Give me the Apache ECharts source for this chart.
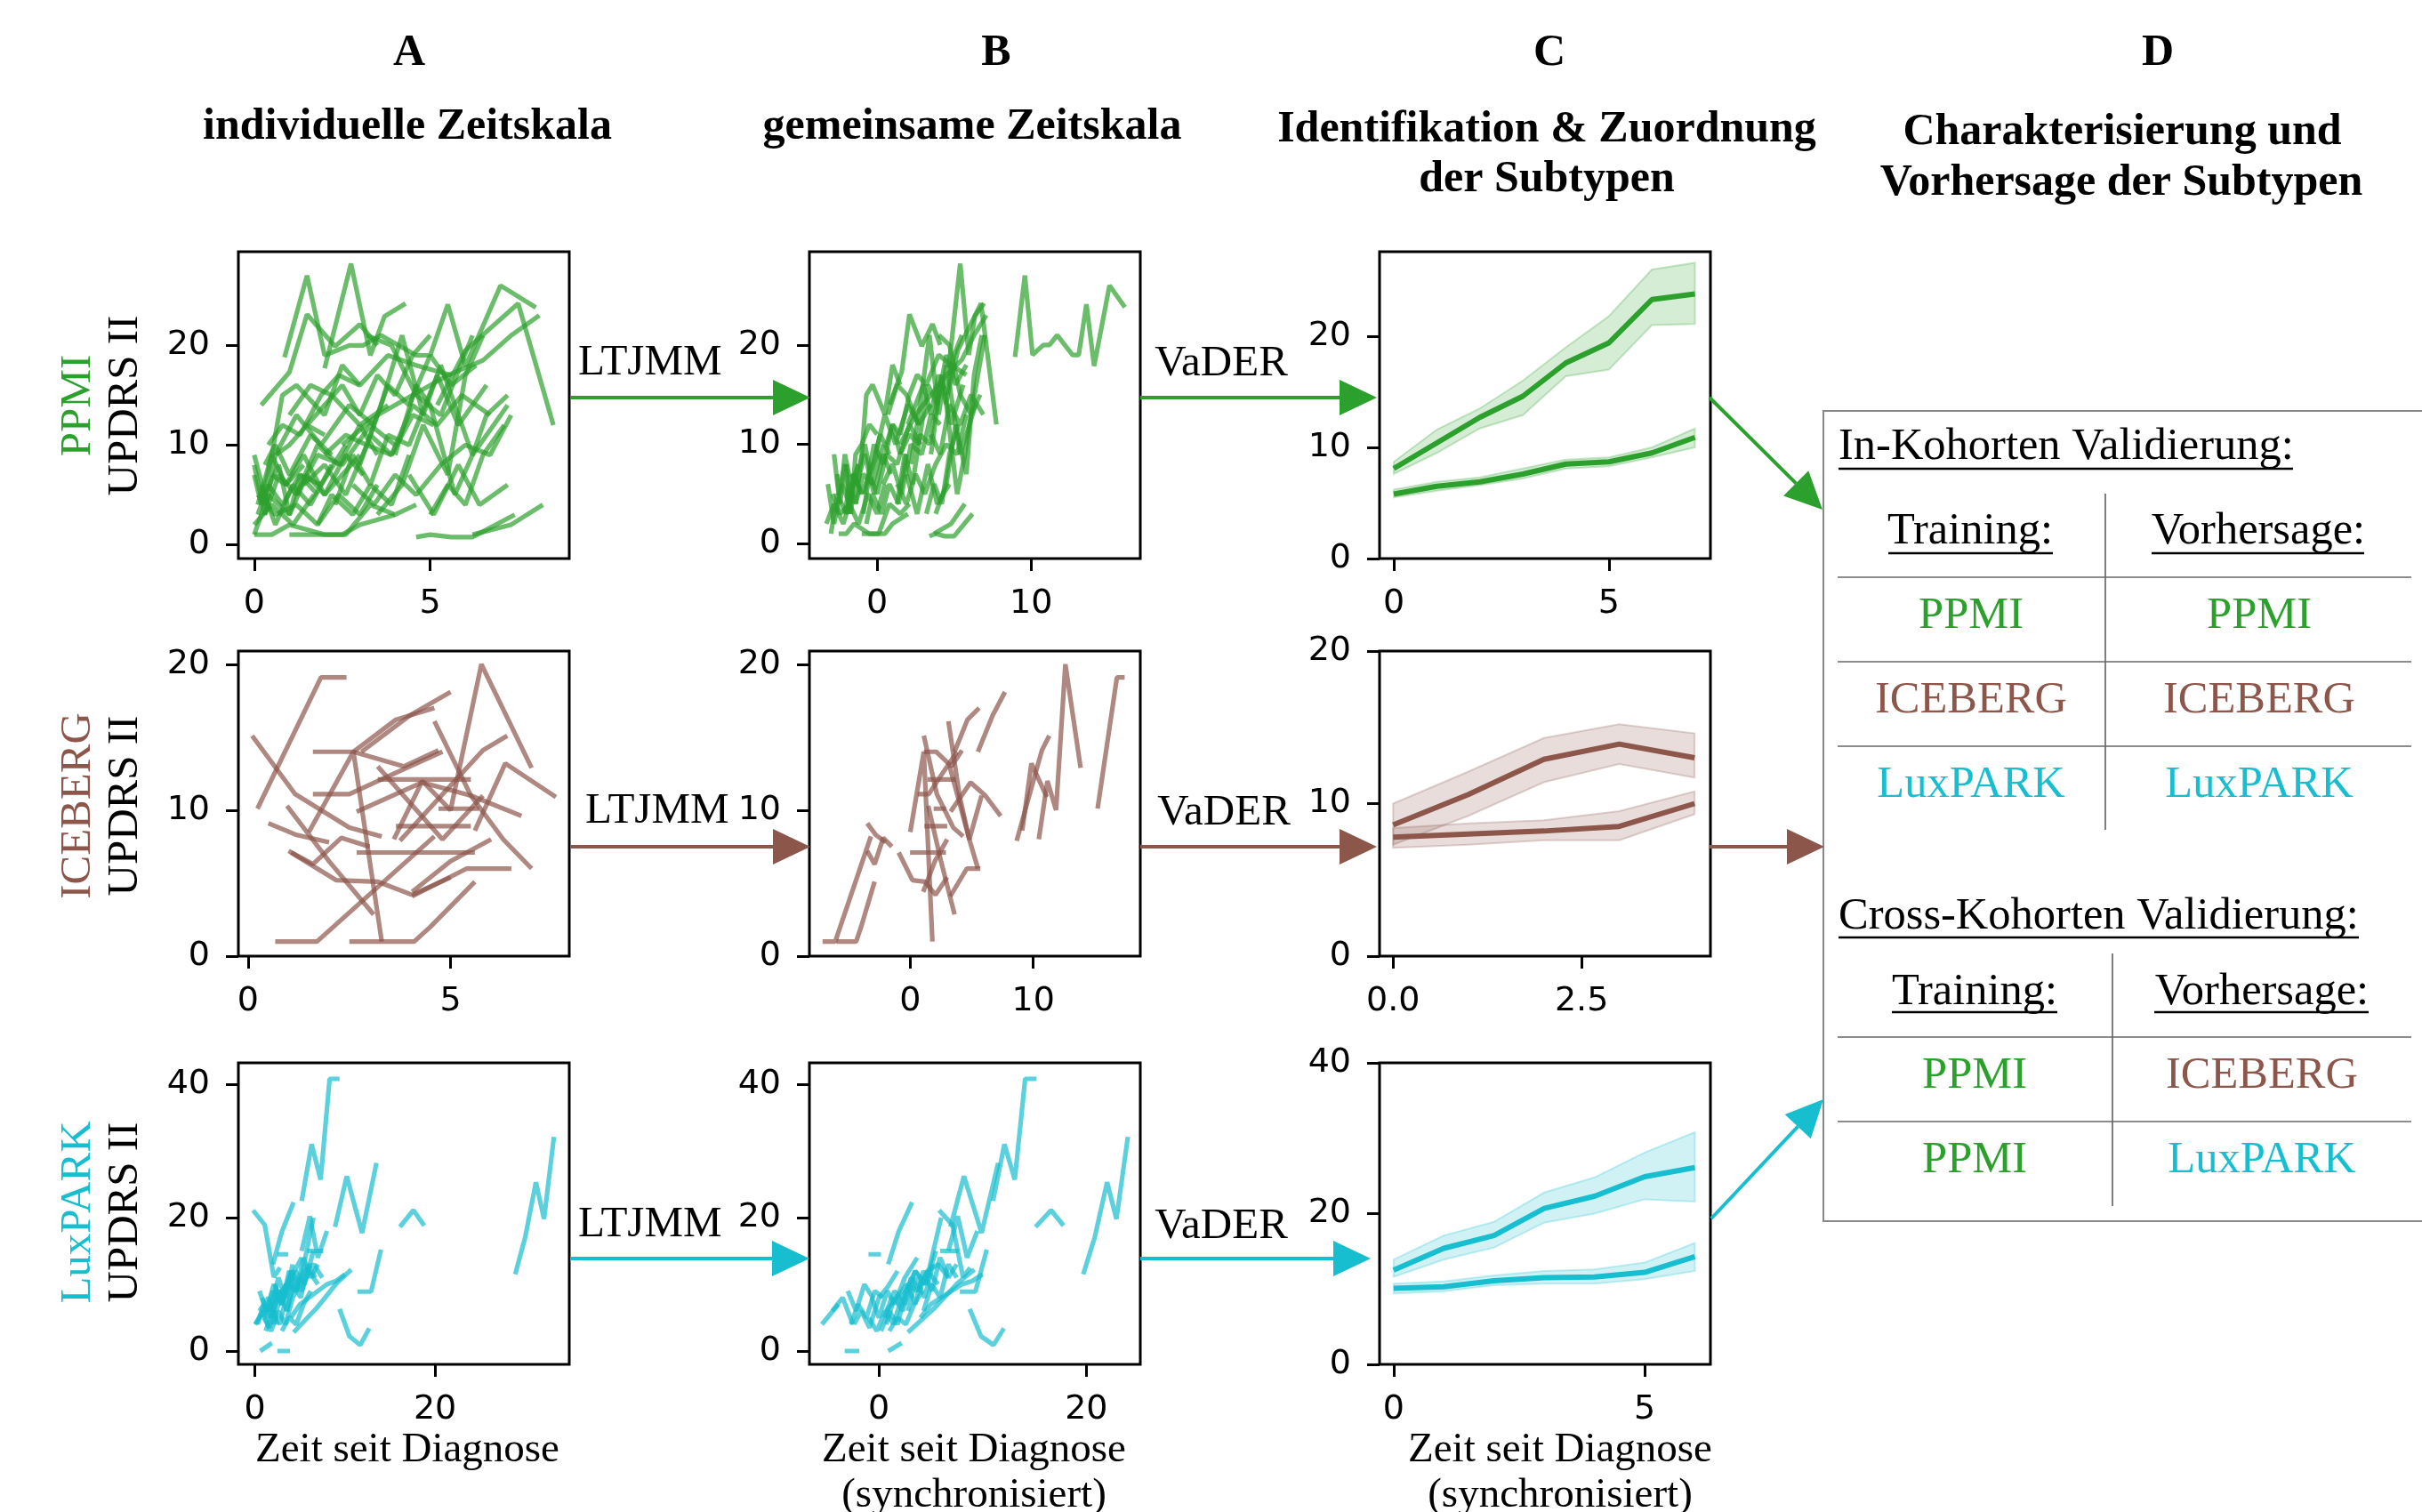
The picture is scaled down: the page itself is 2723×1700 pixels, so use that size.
<!DOCTYPE html>
<html><head><meta charset="utf-8">
<script src="https://cdn.jsdelivr.net/npm/echarts@6/dist/echarts.min.js"></script>
<style>html,body{margin:0;padding:0;background:#fff}#c{width:2723px;height:1700px}</style>
</head><body><div id="c"></div>
<script>
// ---------------- DATA ----------------
// PPMI individual trajectories: time since diagnosis, UPDRS II, and LTJMM time shift
const ppmiTimes = [
 [0.86,1.5,2.0,2.7,3.1,3.6,4.6,5.0,5.5,6.0,7.0,8.0],
 [2.0,2.75,3.3,3.7,4.3],
 [0.2,1.0,1.5,2.3,3.0,3.5],
 [5.2,6.0,7.5,8.5],
 [2.5,3.5,4.5,5.5,6.5,7.3,8.1],
 [0.0,0.3,0.6,1.0,1.5,2.0],
 [0.1,0.5,0.8,1.2,2.0,2.5,3.0],
 [0.0,0.4,1.0,1.5,2.0,3.0],
 [0.2,0.6,1.1,1.6,2.2],
 [0.3,0.7,1.2,1.8,2.5,3.3,4.0],
 [0.0,0.5,1.0,2.0,2.6,3.3,4.0,4.6],
 [1.0,1.5,2.0,2.5,3.0,4.0],
 [4.6,5.0,5.6,6.2,7.4],
 [6.2,7.3,8.2],
 [1.5,2.0,2.5,3.0,3.5,4.0,4.5,5.0],
 [3.0,3.6,4.2,4.8,5.3,6.2,6.8,7.2],
 [1.2,1.8,2.4,3.0,3.5],
 [2.3,2.8,3.3,3.8,4.4,5.2,5.8,6.6],
 [3.5,4.2,4.8,5.5,6.0,6.5],
 [4.0,4.6,5.0,5.7,6.2,6.6,7.2],
 [0.5,0.9,1.4,2.0,2.6,3.1],
 [0.0,0.3,0.7,1.0,1.3,1.8],
 [1.8,2.2,2.8,3.3,3.9,4.4],
 [4.4,5.1,5.8,6.4,7.2],
 [2.0,2.6,3.2,3.8,4.4,5.0,5.6,6.3],
 [0.4,0.8,1.3,1.9,2.4,3.0,3.8,4.6,5.6],
 [5.0,5.5,6.0,6.5,7.1],
 [0.1,0.6,1.2,1.8,2.4,3.0,3.5],
 [2.8,3.4,4.0,4.6,5.3,6.0,6.7,7.3],
 [3.2,3.9,4.6,5.3,6.2],
 [1.0,1.6,2.2,3.0,3.8],
 [0.0,0.2,0.5,0.9,1.4],
 [0.1,0.4,0.8,1.3,1.9,2.6],
 [0.3,0.6,1.0,1.6,2.2],
 [0.0,0.5,1.1,1.7],
 [1.4,2.0,2.6,3.2,3.9,4.5,5.1],
 [0.6,1.2,1.9,2.7,3.4],
 [3.3,3.9,4.5,5.2,5.9,6.7]
];
const ppmiValues = [
 [18.8,27.0,19.0,20.0,20.0,21.0,19.0,19.0,24.1,17.9,26.0,23.8],
 [17.7,28.2,19.0,22.9,24.2],
 [14.0,17.3,23.1,19.9,22.1,20.0],
 [14.0,19.5,24.2,12.0],
 [10,13,15,17,18.5,21,23],
 [8,3,9,10,12,11],
 [4,9,15,16,13,18,16],
 [1,5,3,7,5,9],
 [6,2,6,4,8],
 [3,7,5,9,8,12,10],
 [1,1,2,1,1,4,3,4],
 [1,1,1,1,2,3],
 [0.75,1,0.75,0.75,3.0],
 [1,2,4],
 [12,14,16,13,17,15,19,21],
 [8,14,21,13,18,9,12,14],
 [5,10,8,12,9],
 [4,9,6,11,10,17,12,16],
 [3,6,12,7,17,21],
 [9,16,14,5,9,13,15],
 [7,6,9,5,9,7],
 [9,5,8,3,7,5],
 [2,5,3,6,4,9],
 [7,3,8,4,6],
 [9,11,10,16,14,19,16,18],
 [10,12,11,15,17,16,19,18,17],
 [3,6,4,9,12],
 [5,3,4,2,5,3,6],
 [6,4,7,5,8,10,9,13],
 [21,20,15,13,21],
 [13,16,15,12,14],
 [7,4,9,6,8],
 [3,6,4,7,6,10],
 [8,10,7,11,9],
 [2,4,2,5],
 [6,8,5,10,9,13,12],
 [9,13,10,14,12],
 [11,9,14,12,15,13]
];
const ppmiShift = [8.1,2.65,0.6,-0.75,-1.0,-2.0,-1.5,-3.0,-3.4,-1.2,-2.5,-2.0,-1.2,-2.5,0.5,-0.8,-2.0,-1.0,0.3,-0.5,-2.2,-2.8,-2.5,-2.5,-0.5,0.2,-1.8,-3.0,-1.5,0.8,-0.3,-2.6,-2.2,-1.4,-3.3,-1.0,-0.7,0.2];

// ICEBERG
const iceTimes = [
 [0.23,1.8,2.43],[3.6,4.3,5.0,5.76,7.0],[0.1,1.16,2.5,3.3],[0.67,1.7,4.6],[2.5,4.1,4.5,5.6],
 [0.96,2.0,3.1],[1.6,2.6,3.85,4.7],[4.6,5.5,6.3,7.0],[5.6,6.35,7.6],[4.05,5.4,6.5],
 [4.05,5.0,6.0],[1.06,2.18,3.2,4.05,5.0],[2.68,4.3,5.5,6.75],[3.2,4.2,5.5],[3.65,4.5,5.5],
 [2.68,4.0,5.6],[4.7,5.7],[1.5,2.6,3.3],[2.6,3.65,4.6],[2.8,4.0,5.0],
 [3.75,5.8,6.4],[1.6,2.5,3.6,4.8],[3.2,4.0,4.8,5.8],[1.0,1.6,2.3,3.0],[0.5,1.2,2.0]
];
const iceValues = [
 [10.1,19.1,19.1],[8,12,10,20,12.9],[15.1,11.1,8.8,8.2],[1,1,8.2],[1,1,2,5.1],
 [10.3,6.5,2.85],[14,14,13,14.1],[16.1,11,8,6],[8.6,13.2,10.9],[4.1,6.0,6.0],
 [4.4,6.5,8.0],[7.1,5.2,5.1,4.2,5.4],[9.9,11.9,11,9.6],[12.1,12.1,12.1],[8.9,8.9,8.9],
 [7.1,7.1,7.1],[10.1,10.1],[8.5,14,1.0],[14,16.2,17],[14,16.5,18.1],
 [7.9,14.1,15.1],[11.1,11.1,12.5,14],[13,10.5,8,11],[7.2,6.3,8.1,7.5],[9.1,8.3,7.8]
];
const iceShift = [15.0,6.85,1.0,-7.8,-8.5,0.5,-0.5,-1.5,3.5,-0.8,-3.0,-2.0,0.6,-1.8,-2.5,-2.7,-2.8,-1.5,1.0,2.7,4.9,-1.0,0,-4.5,-4.0];

// LuxPARK
const luxTimes = [
 [5.2,6.3,7.3,8.3,9.4],[8.9,10.2,11.9,13.5],[28.9,30.0,31.2,32.1,33.2],[16.1,17.6,18.8],[9.4,10.5,11.7,12.7],
 [11.4,12.9,14.0],[-0.2,1.1,2.1,2.8],[2.5,3.9],[0.6,1.9],[0.1,0.8,1.6,2.5,3.3,4.3],
 [0.8,1.5,2.3,3.0,4.0,5.2],[1.2,2.0,2.8,3.6,4.5,5.5,6.5],[2.0,3.0,4.3],[4.3,6.9,9.1,10.7],[2.5,3.7],
 [5.8,7.6],[5.2,6.1,7.0,8.0],[1.0,2.0,3.0,4.0,5.0,6.5],[0.3,1.0,1.8,2.6,3.4],[1.5,2.5,3.5,4.5,5.5,6.5,7.5],
 [2.2,3.0,3.8,4.6,5.4,6.2,7.0],[4.0,5.0,6.0,7.0,8.0,9.0,10.0],[0.5,1.5,2.5],[0,0.8,1.6],[3.0,3.8,4.6,5.4,6.2],
 [1.8,2.6,3.4,4.2],[1.0,1.8,2.6,3.4,4.2,5.0],[2.0,2.8,3.6,4.4,5.2,6.0,7.0],[3.5,4.3,5.1,5.9,6.7],[0.5,1.3,2.1,2.9]
];
const luxValues = [
 [22.5,31,25.7,40.8,40.8],[18.6,26.2,17.7,28.2],[11.5,17,25.3,19.8,32.1],[18.6,21.1,18.8],[6.3,2.2,0.9,3.4],
 [8.9,8.9,15.2],[21.1,18.9,11.1,12.5],[0,0],[0,1.2],[4,6,3.5,8,9.5,12],
 [8,5,9,7,11,14],[3,6,4,9,12,10,15],[13,17.9,22.3],[2.8,6.5,10.2,12.2],[14.5,14.5],
 [15,15],[15,20.2,14,18],[5,9,7,12,10,20],[4,7,5,9,8],[6,8,10,9,12,13,11],
 [10,7,12,9,14,11,13],[5,7,8,9,10,10.5,11.5],[6,8,4],[4,5.5,7],[3,5,4,7,9],
 [6,11,8,13],[5,3,6,4,8,10],[4,8,6,11,9,12,10],[6,10,8,13,11],[9,6,10,8]
];
const luxShift = [5.8,-2.0,-9.2,-1.0,-0.65,-3.6,6.0,-5.8,0.3,-2.5,-1.5,-1.0,-1.1,-1.5,-3.5,0.1,1.5,-0.5,-3.0,-0.8,0.5,0,-5.0,-5.5,-2.0,1.0,-2.0,-1.3,0.8,-3.5];

// VaDER subtype means and confidence bands
const ppmiSubX = [0,1,2,3,4,5,6,7];
const ppmiFastMean = [8.1,10.4,12.7,14.6,17.6,19.4,23.3,23.8];
const ppmiFastHi   = [8.7,11.6,13.5,16.0,19.0,21.8,26.0,26.6];
const ppmiFastLo   = [7.6,9.5,11.7,12.9,16.4,17.0,21.0,21.1];
const ppmiSlowMean = [5.8,6.5,6.9,7.6,8.5,8.7,9.5,10.9];
const ppmiSlowHi   = [6.2,6.9,7.3,8.1,8.9,9.1,10.0,11.7];
const ppmiSlowLo   = [5.5,6.1,6.6,7.2,8.1,8.3,9.1,10.0];

const iceSubX = [0,1,2,3,4];
const iceFastMean = [8.6,10.6,12.9,13.9,13.0];
const iceFastHi   = [10.0,12.1,14.3,15.2,14.6];
const iceFastLo   = [7.3,9.2,11.4,12.6,11.7];
const iceSlowMean = [7.8,8.0,8.2,8.5,10.0];
const iceSlowHi   = [8.4,8.7,8.9,9.5,10.8];
const iceSlowLo   = [7.1,7.3,7.6,7.6,9.3];

const luxSubX = [0,1,2,3,4,5,6];
const luxFastMean = [12.5,15.4,17.1,20.7,22.3,24.9,26.1];
const luxFastHi   = [13.9,17.1,18.9,22.8,24.8,28.1,30.8];
const luxFastLo   = [11.6,13.9,15.5,18.8,20.0,21.9,21.6];
const luxSlowMean = [10.1,10.3,11.1,11.5,11.6,12.2,14.3];
const luxSlowHi   = [10.7,11.0,11.8,12.4,12.6,13.5,16.1];
const luxSlowLo   = [9.4,9.7,10.5,10.7,10.7,11.3,12.4];

// tick labels
const ticksA1x=[0,5], ticksB1x=[0,10], ticksC1x=[0,5], ticks20=[0,10,20];
const ticksA2x=[0,5], ticksB2x=[0,10], ticksC2x=[0,2.5];
const ticksA3x=[0,20], ticksB3x=[0,20], ticksC3x=[0,5], ticks40=[0,20,40];

// ---------------- STYLE / LAYOUT ----------------
const GREEN='#2ca02c', BROWN='#8c564b', CYAN='#17becf';
const SERIF='"Liberation Serif","DejaVu Serif",serif';
const SANS='"DejaVu Sans",sans-serif';
const colLeft=[268,910,1551], colW=372;
const rowTop=[283,732,1195], rowH=[345,343,339];

const panels = [
 {r:0,c:0,xr:[-0.45,8.95],yr:[-1.4,29.4],xt:ticksA1x,yt:ticks20},
 {r:0,c:1,xr:[-4.4,17.1],yr:[-1.5,29.4],xt:ticksB1x,yt:ticks20},
 {r:0,c:2,xr:[-0.33,7.36],yr:[0,27.6],xt:ticksC1x,yt:ticks20},
 {r:1,c:0,xr:[-0.24,7.93],yr:[0,20.9],xt:ticksA2x,yt:ticks20},
 {r:1,c:1,xr:[-8.2,18.7],yr:[0,20.9],xt:ticksB2x,yt:ticks20},
 {r:1,c:2,xr:[-0.18,4.21],yr:[0,20],xt:ticksC2x,yt:ticks20,fmt:v=>v.toFixed(1)},
 {r:2,c:0,xr:[-1.83,34.9],yr:[-2.0,43.2],xt:ticksA3x,yt:ticks40},
 {r:2,c:1,xr:[-6.7,25.2],yr:[-2.0,43.2],xt:ticksB3x,yt:ticks40},
 {r:2,c:2,xr:[-0.28,6.31],yr:[0,40],xt:ticksC3x,yt:ticks40}
];

const grids=[], xAxes=[], yAxes=[], series=[];
panels.forEach((p,i)=>{
  grids.push({left:colLeft[p.c], top:rowTop[p.r], width:colW, height:rowH[p.r], show:true,
    borderColor:'#000', borderWidth:3, backgroundColor:'transparent', containLabel:false});
  const tick={show:true, inside:false, length:14, lineStyle:{color:'#000', width:3}};
  xAxes.push({type:'value', gridIndex:i, min:p.xr[0], max:p.xr[1], position:'bottom',
    axisLine:{show:false, onZero:false}, splitLine:{show:false},
    axisTick:Object.assign({customValues:p.xt}, tick),
    axisLabel:{customValues:p.xt, color:'#000', fontFamily:SANS, fontSize:38, lineHeight:38, margin:32,
      formatter: p.fmt || (v=>String(v))}});
  yAxes.push({type:'value', gridIndex:i, min:p.yr[0], max:p.yr[1], position:'left',
    axisLine:{show:false, onZero:false}, splitLine:{show:false},
    axisTick:Object.assign({customValues:p.yt}, tick),
    axisLabel:{customValues:p.yt, color:'#000', fontFamily:SANS, fontSize:38, margin:32, padding:[4,0,0,0],
      formatter:v=>String(v)}});
});

function addTraj(gi, times, values, shifts, color, useShift){
  times.forEach((t,j)=>{
    const s = useShift ? shifts[j] : 0;
    series.push({type:'line', xAxisIndex:gi, yAxisIndex:gi, silent:true, animation:false,
      symbol:'none', showSymbol:false,
      data:t.map((tt,k)=>[+(tt+s).toFixed(3), values[j][k]]),
      lineStyle:{color:color, width:5.2, opacity:0.7}});
  });
}
addTraj(0, ppmiTimes, ppmiValues, ppmiShift, GREEN, false);
addTraj(1, ppmiTimes, ppmiValues, ppmiShift, GREEN, true);
addTraj(3, iceTimes, iceValues, iceShift, BROWN, false);
addTraj(4, iceTimes, iceValues, iceShift, BROWN, true);
addTraj(6, luxTimes, luxValues, luxShift, CYAN, false);
addTraj(7, luxTimes, luxValues, luxShift, CYAN, true);

function rgba(hex,a){const n=parseInt(hex.slice(1),16);return `rgba(${n>>16},${(n>>8)&255},${n&255},${a})`;}
function addBand(gi, xs, lo, hi, mean, color){
  series.push({type:'custom', xAxisIndex:gi, yAxisIndex:gi, silent:true, animation:false,
    data:[[xs[0], mean[0]]],
    renderItem:(params, api)=>{
      const pts=[];
      for(let k=0;k<xs.length;k++) pts.push(api.coord([xs[k],hi[k]]));
      for(let k=xs.length-1;k>=0;k--) pts.push(api.coord([xs[k],lo[k]]));
      return {type:'polygon', shape:{points:pts}, style:{fill:rgba(color,0.2), stroke:rgba(color,0.25), lineWidth:2}};
    }, z:2});
  series.push({type:'line', xAxisIndex:gi, yAxisIndex:gi, silent:true, animation:false,
    symbol:'none', showSymbol:false, data:xs.map((x,k)=>[x,mean[k]]),
    lineStyle:{color:color, width:6}, z:3});
}
addBand(2, ppmiSubX, ppmiFastLo, ppmiFastHi, ppmiFastMean, GREEN);
addBand(2, ppmiSubX, ppmiSlowLo, ppmiSlowHi, ppmiSlowMean, GREEN);
addBand(5, iceSubX, iceFastLo, iceFastHi, iceFastMean, BROWN);
addBand(5, iceSubX, iceSlowLo, iceSlowHi, iceSlowMean, BROWN);
addBand(8, luxSubX, luxFastLo, luxFastHi, luxFastMean, CYAN);
addBand(8, luxSubX, luxSlowLo, luxSlowHi, luxSlowMean, CYAN);

// ---------------- GRAPHIC (texts, arrows, table) ----------------
const G=[];
function txt(x,y,text,o){o=o||{};
  G.push({type:'text', x:x, y:y, rotation:o.rot||0, silent:true, z:10,
    style:{text:text, fill:o.color||'#000',
      font:`${o.weight||'normal'} ${o.size||49}px ${SERIF}`,
      textAlign:o.align||'center', textVerticalAlign:'middle', align:o.align||'center', verticalAlign:'middle'}});
}
function seg(x1,y1,x2,y2,color,w){G.push({type:'line', silent:true, z:10, shape:{x1,y1,x2,y2}, style:{stroke:color, lineWidth:w}});}
function arrow(x1,y1,x2,y2,color){
  const dx=x2-x1, dy=y2-y1, L=Math.hypot(dx,dy), ux=dx/L, uy=dy/L, hl=42, hw=20;
  const bx=x2-ux*hl, by=y2-uy*hl;
  seg(x1,y1,bx,by,color,4);
  G.push({type:'polygon', silent:true, z:10, shape:{points:[[x2,y2],[bx-uy*hw,by+ux*hw],[bx+uy*hw,by-ux*hw]]}, style:{fill:color}});
}

// column headers
txt(460,60,'A',{weight:'bold',size:50});
txt(1120,60,'B',{weight:'bold',size:50});
txt(1742,60,'C',{weight:'bold',size:50});
txt(2426,60,'D',{weight:'bold',size:50});
txt(458,143,'individuelle Zeitskala',{weight:'bold',size:50});
txt(1093,143,'gemeinsame Zeitskala',{weight:'bold',size:50});
txt(1739,146,'Identifikation & Zuordnung',{weight:'bold',size:50});
txt(1739,202,'der Subtypen',{weight:'bold',size:50});
txt(2386,149,'Charakterisierung und',{weight:'bold',size:50});
txt(2385,206,'Vorhersage der Subtypen',{weight:'bold',size:50});

// row labels
const rowC=[456,906,1363];
[['PPMI',GREEN],['ICEBERG',BROWN],['LuxPARK',CYAN]].forEach((d,r)=>{
  txt(88,rowC[r],d[0],{color:d[1],rot:Math.PI/2});
  txt(141,rowC[r],'UPDRS II',{rot:Math.PI/2});
});

// x-axis labels
txt(458,1631,'Zeit seit Diagnose',{size:47});
txt(1095,1631,'Zeit seit Diagnose',{size:47});
txt(1095,1682,'(synchronisiert)',{size:47});
txt(1754,1631,'Zeit seit Diagnose',{size:47});
txt(1754,1682,'(synchronisiert)',{size:47});

// arrows + labels
arrow(641,447,911,447,GREEN); arrow(1282,447,1548,447,GREEN); arrow(1922,447,2049,573,GREEN);
arrow(641,952,911,952,BROWN); arrow(1282,952,1548,952,BROWN); arrow(1922,952,2051,952,BROWN);
arrow(641,1415,910,1415,CYAN); arrow(1282,1415,1541,1415,CYAN); arrow(1924,1370,2050,1236,CYAN);
txt(650,408,'LTJMM',{align:'left'});
txt(658,912,'LTJMM',{align:'left'});
txt(650,1377,'LTJMM',{align:'left'});
txt(1373,409,'VaDER'); txt(1376,914,'VaDER'); txt(1373,1379,'VaDER');

// table D
const TS=50.5;
G.push({type:'rect', silent:true, z:9, shape:{x:2050,y:462,width:700,height:911}, style:{fill:'#fff', stroke:'#888', lineWidth:2}});
txt(2067,503,'In-Kohorten Validierung:',{align:'left',size:TS}); seg(2067,527,2578,527,'#000',2.5);
seg(2367,555,2367,933,'#555',1.5);
[649,744,839].forEach(y=>seg(2066,y,2711,y,'#666',1.5));
txt(2215,598,'Training:',{size:TS}); seg(2123,622,2308,622,'#000',2.5);
txt(2539,598,'Vorhersage:',{size:TS}); seg(2419,622,2658,622,'#000',2.5);
txt(2216,693,'PPMI',{color:GREEN,size:TS}); txt(2540,693,'PPMI',{color:GREEN,size:TS});
txt(2216,788,'ICEBERG',{color:BROWN,size:TS}); txt(2540,788,'ICEBERG',{color:BROWN,size:TS});
txt(2216,883,'LuxPARK',{color:CYAN,size:TS}); txt(2540,883,'LuxPARK',{color:CYAN,size:TS});

txt(2067,1031,'Cross-Kohorten Validierung:',{align:'left',size:TS}); seg(2067,1054,2652,1054,'#000',2.5);
seg(2375,1072,2375,1356,'#555',1.5);
[1166,1261].forEach(y=>seg(2066,y,2711,y,'#666',1.5));
txt(2220,1116,'Training:',{size:TS}); seg(2127,1138,2313,1138,'#000',2.5);
txt(2543,1116,'Vorhersage:',{size:TS}); seg(2422,1138,2663,1138,'#000',2.5);
txt(2220,1210,'PPMI',{color:GREEN,size:TS}); txt(2543,1210,'ICEBERG',{color:BROWN,size:TS});
txt(2220,1305,'PPMI',{color:GREEN,size:TS}); txt(2543,1305,'LuxPARK',{color:CYAN,size:TS});

const chart = echarts.init(document.getElementById('c'), null, {renderer:'canvas', width:2723, height:1700});
chart.setOption({backgroundColor:'#fff', animation:false, grid:grids, xAxis:xAxes, yAxis:yAxes, series:series, graphic:{elements:G}});
</script></body></html>
